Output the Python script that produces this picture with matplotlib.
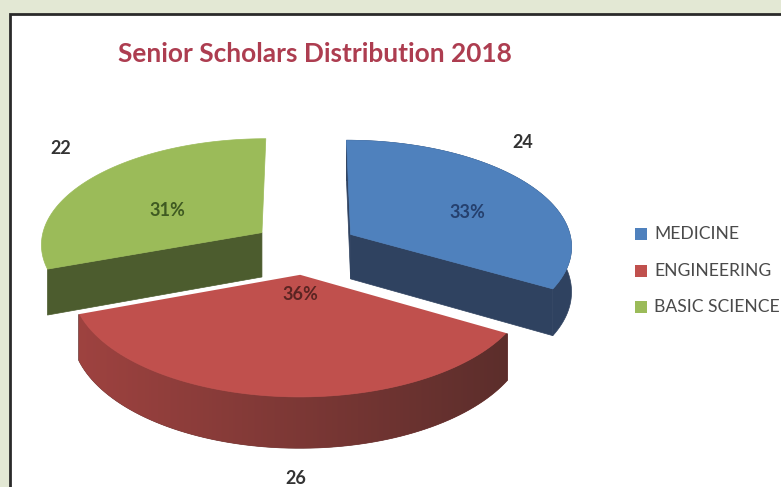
import numpy as np
import matplotlib
matplotlib.use("Agg")
import matplotlib.pyplot as plt
from matplotlib.patches import Polygon, Rectangle

categories = ["MEDICINE", "ENGINEERING", "BASIC SCIENCE"]
values = [24, 26, 22]
percent_labels = ["33%", "36%", "31%"]
title = "Senior Scholars Distribution 2018"

top_colors = ["#4f81bd", "#c0504d", "#9bbb59"]
side_colors = ["#2f4260", "#6e3533", "#4c5c2e"]
percent_colors = ["#25406e", "#5a2422", "#3f5a22"]

W, H = 781, 487
plt.rcParams["font.family"] = ["Lato", "DejaVu Sans"]
fig = plt.figure(figsize=(W / 100, H / 100), dpi=100, facecolor="#e3e8d4")
ax = fig.add_axes([0, 0, 1, 1])
ax.set_xlim(0, W)
ax.set_ylim(H, 0)
ax.axis("off")

ax.add_patch(Rectangle((10, 14), W + 20, H + 20, fc="white", ec="#2a2a2a", lw=2))

# projection constants
VX, VY, A, B, K, DROP, EXPLODE = 305, 247, 222, 106, 0.10, 45, 0.24
# which cut faces (start, end) and outer walls show for each slice
show_faces = [(True, True), (False, False), (True, False)]
show_wall = [True, True, False]


def project(mx, my, z=0.0):
    f = 1 / (1 + K * my)
    return VX + A * mx * f, VY - B * my * f + z * DROP * f


def rim(t0, t1, ox, oy, z=0.0):
    t = np.linspace(t0, t1, 80)
    X, Y = project(ox + np.sin(t), oy + np.cos(t), z)
    return np.column_stack([X, Y])


total = sum(values)
edges = np.cumsum([0] + values) / total * 2 * np.pi
order = [0, 2, 1]
for i in order:
    t0, t1 = edges[i], edges[i + 1]
    mid = (t0 + t1) / 2
    ox, oy = EXPLODE * np.sin(mid), EXPLODE * np.cos(mid)
    apex_top = np.array(project(ox, oy, 0.0))
    apex_bot = np.array(project(ox, oy, 1.0))
    top = np.vstack([apex_top, rim(t0, t1, ox, oy)])
    for th, vis in zip((t0, t1), show_faces[i]):
        if vis:
            a = rim(th, th, ox, oy)[0]
            b = rim(th, th, ox, oy, 1.0)[0]
            ax.add_patch(Polygon([apex_top, a, b, apex_bot], fc=side_colors[i], ec=side_colors[i], lw=0.5))
    if show_wall[i]:
        wall = np.vstack([rim(t0, t1, ox, oy), rim(t0, t1, ox, oy, 1.0)[::-1]])
        wall_patch = Polygon(wall, fc=side_colors[i], ec=side_colors[i], lw=0.5)
        ax.add_patch(wall_patch)
    if i == 1:
        grad = np.linspace(0, 1, 256)[None, :, None]
        c0, c1 = np.array([0.36, 0.18, 0.17]), np.array([0.62, 0.26, 0.25])
        img = ax.imshow(c0 * (1 - grad) + c1 * grad,
                        extent=[wall[:, 0].max(), wall[:, 0].min(), wall[:, 1].max(), wall[:, 1].min()],
                        aspect="auto", zorder=2, interpolation="bilinear")
        img.set_clip_path(wall_patch)
    ax.add_patch(Polygon(top, fc=top_colors[i], ec=top_colors[i], lw=0.5,
                         joinstyle="round", zorder=3 if i == 1 else 1))
    if i == 1:
        # white gap along the two cut edges of the front slice
        a, b = rim(t0, t0, ox, oy)[0], rim(t1, t1, ox, oy)[0]
        ax.plot([a[0], apex_top[0], b[0]], [a[1], apex_top[1], b[1]], color="white", lw=2.6,
                solid_joinstyle="round", zorder=3.5)
ax.set_xlim(0, W)
ax.set_ylim(H, 0)

# labels
value_pos = [(523, 142), (296, 478), (61, 148)]
pct_pos = [(467, 213), (300, 294), (167, 210)]
for v, p in zip(values, value_pos):
    ax.text(*p, str(v), ha="center", va="center", fontsize=13, fontweight="bold", color="#333333", zorder=5)
for s, p, c in zip(percent_labels, pct_pos, percent_colors):
    ax.text(*p, s, ha="center", va="center", fontsize=13, fontweight="bold", color=c, zorder=5)

ax.text(315, 54, title, ha="center", va="center", fontsize=18.9, fontweight="bold", color="#ad3d50", zorder=5)

for cat, c, y in zip(categories, top_colors, [234, 271, 307]):
    ax.add_patch(Rectangle((635, y - 6), 12, 12, fc=c, ec="none", zorder=5))
    ax.text(654, y, cat, ha="left", va="center", fontsize=12.6, color="#4a4a4a", zorder=5)

fig.savefig("out.png", dpi=100, facecolor=fig.get_facecolor())
